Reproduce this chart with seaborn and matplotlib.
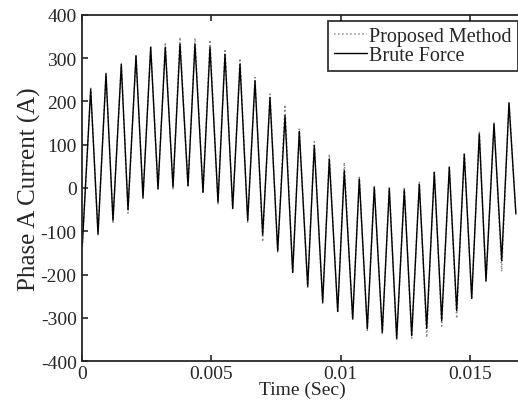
import numpy as np
import pandas as pd
import seaborn as sns
import matplotlib
matplotlib.use('Agg')
import matplotlib.pyplot as plt

sns.set_style('ticks')
plt.rcParams['font.family'] = ['Liberation Serif', 'DejaVu Serif']
plt.rcParams['axes.unicode_minus'] = False

# sample times (ms) of each trough / peak
time_ms = [0.0, 0.325, 0.608, 0.917, 1.188, 1.509, 1.769, 2.078, 2.349, 2.647,
           2.930, 3.212, 3.510, 3.781, 4.091, 4.361, 4.671, 4.942, 5.252, 5.523,
           5.821, 6.103, 6.401, 6.684, 6.981, 7.264, 7.562, 7.845, 8.142, 8.398,
           8.723, 8.978, 9.303, 9.559, 9.884, 10.139, 10.464, 10.720, 11.030, 11.300,
           11.610, 11.881, 12.167, 12.461, 12.748, 13.042, 13.328, 13.622, 13.909, 14.203,
           14.489, 14.783, 15.070, 15.364, 15.623, 15.933, 16.231, 16.513, 16.780]

brute_force = [-133, 228, -106, 263, -75, 285, -50, 305, -22, 325,
               -2, 325, 2, 332, 5, 332, -10, 325, -33, 309,
               -47, 286, -75, 248, -108, 209, -145, 167, -195, 131,
               -227, 98, -264, 67, -285, 40, -302, 21, -325, 2,
               -333, -1, -347, -4, -341, 9, -324, 36, -306, 48,
               -283, 78, -255, 125, -214, 148, -168, 196, -60]

proposed = [-135, 230, -108, 265, -79, 287, -58, 308, -24, 328,
            -4, 336, -2, 348, 2, 346, -12, 342, -37, 321,
            -50, 299, -79, 255, -124, 217, -148, 192, -197, 136,
            -229, 107, -268, 78, -288, 59, -305, 25, -329, 5,
            -339, 3, -352, -1, -347, 15, -345, 40, -319, 51,
            -301, 82, -256, 129, -216, 152, -193, 199, -58]

t = np.array(time_ms) / 1000.0
df = pd.DataFrame({'t': t, 'Proposed Method': proposed, 'Brute Force': brute_force})

fig = plt.figure(figsize=(5.18, 4.10), dpi=100)
ax = fig.add_axes([82.3 / 518, 47.7 / 410, 440 / 518, 346.6 / 410])

sns.lineplot(data=df, x='t', y='Proposed Method', ax=ax, color='#8c8c8c',
             linestyle=':', linewidth=1.1, label='Proposed Method', sort=False)
sns.lineplot(data=df, x='t', y='Brute Force', ax=ax, color='black',
             linewidth=1.0, label='Brute Force', sort=False)

ax.set_xlim(0, 0.005 * 440 / 129.2)
ax.set_ylim(-400, 400)
ax.set_xticks([0, 0.005, 0.01, 0.015])
ax.set_xticklabels(['0', '0.005', '0.01', '0.015'])
ax.set_yticks(np.arange(-400, 401, 100))
ax.tick_params(direction='in', length=4, width=1.2, labelsize=14,
               top=True, right=False, pad=3)
ax.tick_params(axis='y', pad=4)
for s in ax.spines.values():
    s.set_linewidth(1.3)
    s.set_visible(True)

ax.set_xlabel('Time (Sec)', fontsize=14, labelpad=-1)
ax.set_ylabel('Phase A Current (A)', fontsize=18, labelpad=0)

leg = ax.legend(loc='upper right', bbox_to_anchor=(517.5 / 518, 1 - 21.5 / 410),
                bbox_transform=fig.transFigure, fontsize=14.5, frameon=True,
                fancybox=False, handlelength=1.6, handletextpad=0.12,
                labelspacing=0.0, borderpad=0.3, borderaxespad=0)
leg.get_frame().set_edgecolor('black')
leg.get_frame().set_linewidth(1.3)

fig.savefig('out.png', dpi=100)
